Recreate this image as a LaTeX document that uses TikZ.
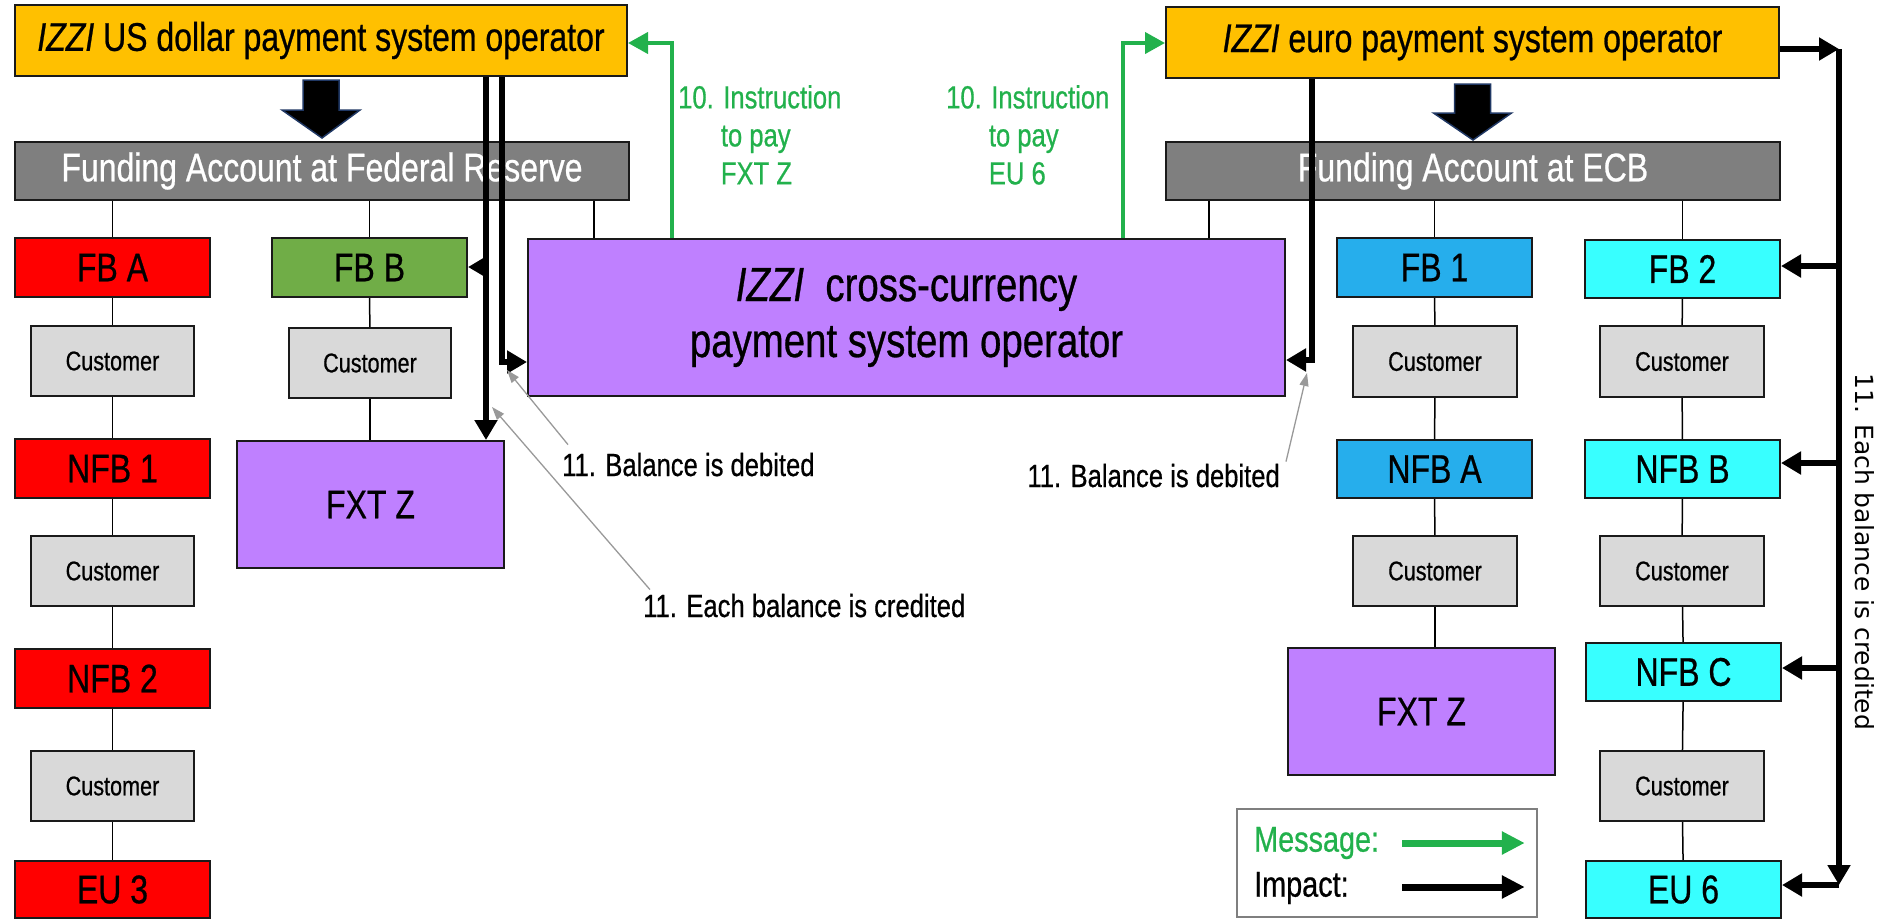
\documentclass[tikz,border=0pt]{standalone}
\usepackage{fontspec}
\setmainfont{Liberation Sans}[FakeStretch=0.8,FakeBold=0.6]
\newfontfamily\sidefont{DejaVu Sans}
\usetikzlibrary{arrows.meta,calc}

\definecolor{opyellow}{HTML}{FFC000}
\definecolor{fundgray}{HTML}{7F7F7F}
\definecolor{bankred}{HTML}{FF0000}
\definecolor{bankgreen}{HTML}{70AD47}
\definecolor{fxpurple}{HTML}{BF80FF}
\definecolor{bankblue}{HTML}{26AEEC}
\definecolor{bankcyan}{HTML}{38FFFF}
\definecolor{custgray}{HTML}{D9D9D9}
\definecolor{msggreen}{HTML}{22B14C}
\definecolor{notegray}{HTML}{999999}
\definecolor{edge}{HTML}{1A1A1A}
\definecolor{blockedge}{HTML}{203864}

\newcommand{\fsBox}{\fontsize{40}{46}\selectfont}
\newcommand{\fsCust}{\fontsize{27}{32}\selectfont}
\newcommand{\fsCross}{\fontsize{48}{56}\selectfont}
\newcommand{\fsNote}{\fontsize{32}{38}\selectfont}
\newcommand{\fsKey}{\fontsize{36}{44}\selectfont}

\begin{document}
\begin{tikzpicture}[x=1pt,y=-1pt,
  box/.style={draw=edge, line width=2pt, inner sep=0pt, align=center, font=\fsBox},
  opbox/.style={box, fill=opyellow, minimum width=612pt, minimum height=71pt},
  fundbox/.style={box, fill=fundgray, text=white, minimum width=614pt, minimum height=58pt},
  bankbox/.style={box, minimum width=195pt, minimum height=59pt},
  custbox/.style={box, fill=custgray, font=\fsCust, minimum width=163pt, minimum height=70pt},
  fxtbox/.style={box, fill=fxpurple, minimum width=267pt, minimum height=127pt},
  link/.style={line width=1.5pt, draw=black},
  impact/.style={line width=6pt, draw=black, -{Triangle[length=20pt,width=22pt]}},
  msg/.style={line width=4pt, draw=msggreen, -{Triangle[length=20pt,width=21pt]}},
  keyarrow/.style={line width=7pt, -{Triangle[length=23pt,width=22pt]}},
  note/.style={line width=1.3pt, draw=notegray, -{Triangle[length=13pt,width=9pt]}},
  notetext/.style={inner sep=0pt, font=\fsNote},
  blockarrow/.style={fill=black, draw=blockedge, line width=1.5pt, line join=miter},
]
\useasboundingbox (0,0) rectangle (1883,919);

% ---------- operators and funding accounts ----------
\node[opbox] (usop) at (321,40.5) {\textit{IZZI} US dollar payment system operator};
\node[opbox, minimum width=613pt] (euop) at (1472.5,42.5) {\textit{IZZI} euro payment system operator};
\node[fundbox] (fed) at (322,171) {Funding Account at Federal Reserve};
\node[fundbox] (ecb) at (1473,171) {Funding Account at ECB};

% ---------- US dollar side ----------
\node[bankbox, fill=bankred] (fbA)  at (112.5,267.5) {FB A};
\node[custbox] (cA1) at (112.5,361) {Customer};
\node[bankbox, fill=bankred] (nfb1) at (112.5,468.5) {NFB 1};
\node[custbox] (cA2) at (112.5,571) {Customer};
\node[bankbox, fill=bankred] (nfb2) at (112.5,678.5) {NFB 2};
\node[custbox] (cA3) at (112.5,786) {Customer};
\node[bankbox, fill=bankred, minimum height=57pt] (eu3) at (112.5,889.5) {EU 3};

\node[bankbox, fill=bankgreen] (fbB) at (369.5,267.5) {FB B};
\node[custbox, minimum width=162pt] (cB1) at (370,363) {Customer};
\node[fxtbox] (fxtL) at (370.5,504.5) {FXT Z};

% ---------- cross-currency operator ----------
\node[box, fill=fxpurple, font=\fsCross, minimum width=757pt, minimum height=157pt] (cross) at (906.5,317.5)
  {\textit{IZZI}\ \ cross-currency\\payment system operator};

% ---------- euro side ----------
\node[bankbox, fill=bankblue] (fb1)  at (1434.5,267.5) {FB 1};
\node[custbox, minimum width=164pt, minimum height=71pt] (cC1) at (1435,361.5) {Customer};
\node[bankbox, fill=bankblue, minimum height=58pt] (nfbA) at (1434.5,469) {NFB A};
\node[custbox, minimum width=164pt] (cC2) at (1435,571) {Customer};
\node[fxtbox] (fxtR) at (1421.5,711.5) {FXT Z};

\node[bankbox, fill=bankcyan, minimum height=58pt] (fb2)  at (1682.5,269) {FB 2};
\node[custbox, minimum width=164pt, minimum height=71pt] (cD1) at (1682,361.5) {Customer};
\node[bankbox, fill=bankcyan, minimum height=58pt] (nfbB) at (1682.5,469) {NFB B};
\node[custbox, minimum width=164pt] (cD2) at (1682,571) {Customer};
\node[bankbox, fill=bankcyan, minimum height=58pt] (nfbC) at (1683.5,672) {NFB C};
\node[custbox, minimum width=164pt] (cD3) at (1682,786) {Customer};
\node[bankbox, fill=bankcyan, minimum height=57pt] (eu6)  at (1683.5,889.5) {EU 6};

% ---------- account links ----------
\coordinate (dU) at (594,0);
\coordinate (dE) at (1209,0);
\draw[link] (fed.south -| fbA) -- (fbA.north);
\draw[link] (fbA) -- (cA1) -- (nfb1) -- (cA2) -- (nfb2) -- (cA3) -- (eu3);
\draw[link] (fed.south -| fbB) -- (fbB.north);
\draw[link] (fbB) -- (cB1);
\draw[link] (cB1.south) -- (fxtL.north -| cB1.south);
\draw[link] (fed.south -| dU) -- (cross.north -| dU);
\draw[link] (ecb.south -| dE) -- (cross.north -| dE);
\draw[link] (ecb.south -| fb1) -- (fb1.north);
\draw[link] (fb1) -- (cC1) -- (nfbA) -- (cC2);
\draw[link] (cC2.south) -- (fxtR.north -| cC2.south);
\draw[link] (ecb.south -| fb2) -- (fb2.north);
\draw[link] (fb2) -- (cD1) -- (nfbB) -- (cD2) -- (nfbC) -- (cD3) -- (eu6);

% ---------- funding block arrows ----------
\filldraw[blockarrow] ($(usop.south)+(-18,3)$) -- ($(usop.south)+(18,3)$) -- ($(usop.south)+(18,33)$)
  -- ($(usop.south)+(39,33)$) -- ($(fed.north)+(0,-3)$) -- ($(usop.south)+(-39,33)$)
  -- ($(usop.south)+(-18,33)$) -- cycle;
\filldraw[blockarrow] ($(euop.south)+(-18,5)$) -- ($(euop.south)+(18,5)$) -- ($(euop.south)+(18,34)$)
  -- ($(euop.south)+(39,34)$) -- ($(ecb.north)+(0,-1)$) -- ($(euop.south)+(-39,34)$)
  -- ($(euop.south)+(-18,34)$) -- cycle;

% ---------- impact on the US dollar side ----------
\coordinate (kL) at (486,267);
\coordinate (kU) at (502,362);
\draw[impact] (usop.south -| kL) -- (fxtL.north -| kL);
\draw[impact] (kL) -- (kL -| fbB.east);
\draw[impact] (usop.south -| kU) -- (kU) -- (kU -| cross.west);

% ---------- impact on the euro side ----------
\coordinate (kE) at (1312,360);
\draw[impact] (euop.south -| kE) -- (kE) -- (kE -| cross.east);

\coordinate (kR) at (1839,49);
\coordinate (kB) at (1839,885);
\coordinate (r1) at (1839,266);
\coordinate (r2) at (1839,463);
\coordinate (r3) at (1839,668);
\draw[impact] (kR -| euop.east) -- (kR);
\draw[impact] (kR) -- (kB);
\draw[impact] (kB) -- (kB -| eu6.east);
\draw[impact] (r1) -- (r1 -| fb2.east);
\draw[impact] (r2) -- (r2 -| nfbB.east);
\draw[impact] (r3) -- (r3 -| nfbC.east);

% ---------- instruction messages ----------
\coordinate (gU) at (672,43);
\coordinate (gE) at (1123,43);
\draw[msg] (cross.north -| gU) -- (gU) -- (gU -| usop.east);
\draw[msg] (cross.north -| gE) -- (gE) -- (gE -| euop.west);
\node[notetext, text=msggreen, align=left, anchor=north west] (m1) at (678,85)
  {10. Instruction\\\hphantom{10.\ }to pay\\\hphantom{10.\ }FXT Z};
\node[notetext, text=msggreen, align=left, anchor=north west] (m2) at (946,85)
  {10. Instruction\\\hphantom{10.\ }to pay\\\hphantom{10.\ }EU 6};

% ---------- balance notes ----------
\node[notetext, anchor=base west] (deb1) at (562,476) {11. Balance is debited};
\node[notetext, anchor=base west] (cred1) at (643,617) {11. Each balance is credited};
\node[notetext, anchor=base east] (deb2) at (1280,487) {11. Balance is debited};
\coordinate (t1) at (507,370);
\coordinate (t2) at (492,407);
\coordinate (t3) at (1307,373);
\draw[note] ($(deb1.north west)+(6,-8)$) -- (t1);
\draw[note] ($(cred1.north west)+(7,-4)$) -- (t2);
\draw[note] ($(deb2.north east)+(6,-2)$) -- (t3);
\node[rotate=-90, inner sep=0pt, font=\sidefont\fontsize{25}{30}\selectfont] (side) at (1865,552)
  {11. Each balance is credited};

% ---------- legend ----------
\node[draw=fundgray, line width=1.5pt, minimum width=300pt, minimum height=108pt, inner sep=0pt] (key) at (1387,863) {};
\node[inner sep=0pt, anchor=west, font=\fsKey, text=msggreen] (kmsg) at (1254,843) {Message:};
\node[inner sep=0pt, anchor=west, font=\fsKey] (kimp) at (1254,888) {Impact:};
\coordinate (ka) at (1402,843);
\coordinate (kb) at (1402,887);
\draw[keyarrow, msggreen] (ka) -- ($(ka -| key.east)+(-13,0)$);
\draw[keyarrow, black] (kb) -- ($(kb -| key.east)+(-13,0)$);
\end{tikzpicture}
\end{document}
